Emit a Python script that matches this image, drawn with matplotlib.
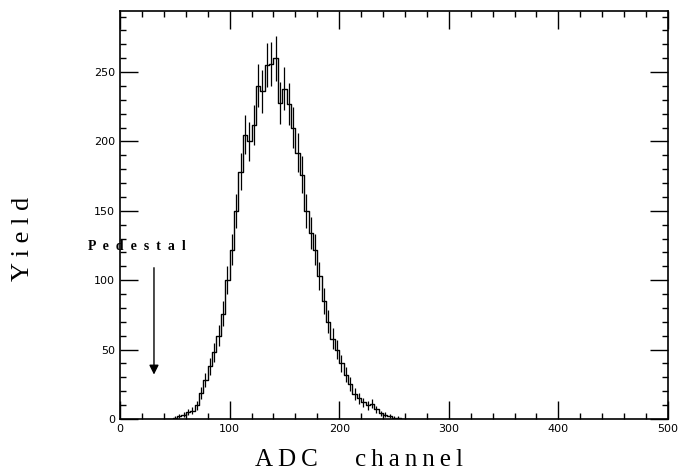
import numpy as np
import matplotlib.pyplot as plt
from matplotlib.ticker import MultipleLocator

# ADC spectrum, 4-channel bins (left edges)
bin_edges = [40, 44, 48, 52, 56, 60, 64, 68, 72, 76, 80, 84, 88, 92, 96, 100,
             104, 108, 112, 116, 120, 124, 128, 132, 136, 140, 144, 148, 152,
             156, 160, 164, 168, 172, 176, 180, 184, 188, 192, 196, 200, 204,
             208, 212, 216, 220, 224, 228, 232, 236, 240, 244, 248, 252, 256,
             260]
counts = [0, 0, 1, 2, 3, 5, 6, 10, 19, 28, 38, 48, 60, 76, 100, 122,
          150, 178, 205, 200, 212, 240, 236, 255, 256, 260, 228, 238, 227,
          210, 192, 176, 150, 134, 122, 103, 85, 70, 58, 50, 40, 32,
          25, 18, 15, 12, 10, 11, 7, 4, 3, 2, 1, 1, 0,
          0]
bin_w = 4

pedestal_x = 31
pedestal_top = 111
pedestal_bottom = 30

ts = '\u2009'  # thin space, the scan uses letter-spaced labels

fig = plt.figure(figsize=(6.85, 4.76), dpi=100)
ax = fig.add_axes([120 / 685, 57 / 476, 548 / 685, 408 / 476])

x = np.array(bin_edges, dtype=float)
y = np.array(counts, dtype=float)
xs = np.append(x, x[-1] + bin_w)
ys = np.append(y, y[-1])
ax.step(xs, ys, where='post', color='black', lw=1.0)
ax.errorbar(x + bin_w / 2, y, yerr=np.sqrt(y), fmt='none', ecolor='black',
            elinewidth=0.9, capsize=0)

ax.set_xlim(0, 500)
ax.set_ylim(0, 294)
ax.xaxis.set_major_locator(MultipleLocator(100))
ax.xaxis.set_minor_locator(MultipleLocator(20))
ax.yaxis.set_major_locator(MultipleLocator(50))
ax.yaxis.set_minor_locator(MultipleLocator(10))
ax.tick_params(which='both', direction='in', top=True, right=True,
               width=1.0, labelsize=8)
ax.tick_params(which='major', length=13)
ax.tick_params(which='minor', length=4)
for s in ax.spines.values():
    s.set_linewidth(1.2)

# axis titles placed by hand, as in the scan
fig.text(255 / 685, 1 - 466 / 476, ts.join('ADC'), family='Liberation Serif',
         fontsize=18, ha='left', va='baseline')
fig.text(355 / 685, 1 - 466 / 476, ts.join('channel'),
         family='Liberation Serif', fontsize=18, ha='left', va='baseline')
fig.text(23 / 685, 1 - 239 / 476, 'Y i e l d', family='Liberation Serif',
         fontsize=19, rotation=90, ha='center', va='center')

# pedestal marker
ax.text(15.5, 124, 'P  e  d  e  s  t  a  l', family='Liberation Serif',
        fontsize=10, fontweight='bold', ha='center', va='center')
ax.annotate('', xy=(pedestal_x, pedestal_bottom),
            xytext=(pedestal_x, pedestal_top),
            arrowprops=dict(arrowstyle='-|>', color='black', lw=1.0,
                            mutation_scale=14))

fig.savefig('out.png', dpi=100)
